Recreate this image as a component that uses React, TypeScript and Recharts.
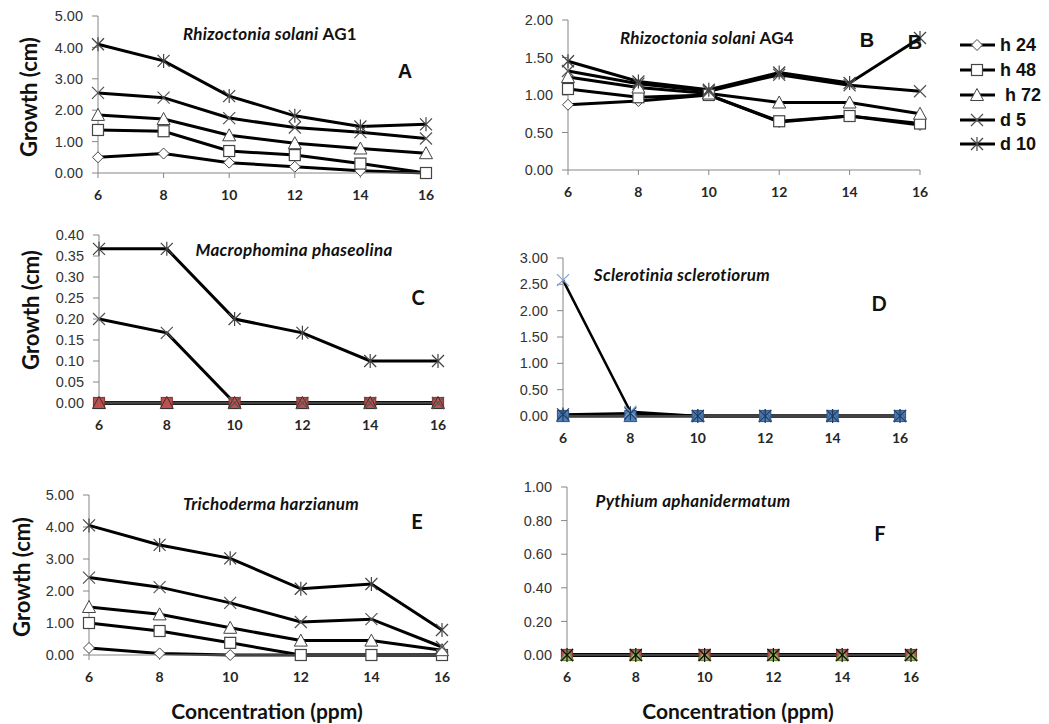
import React from 'react';
import { LineChart, Line, XAxis, YAxis } from 'recharts';

const concentrations = [6, 8, 10, 12, 14, 16];
const seriesKeys = ['h24', 'h48', 'h72', 'd5', 'd10'];
const seriesNames = ['h 24', 'h 48', ' h 72', 'd 5', 'd 10'];
const seriesShapes = ['diamond', 'square', 'triangle', 'cross', 'star'];

// A: Rhizoctonia solani AG1
const ag1H24 = [0.5, 0.62, 0.33, 0.2, 0.07, 0.0];
const ag1H48 = [1.37, 1.33, 0.7, 0.57, 0.3, 0.0];
const ag1H72 = [1.85, 1.72, 1.2, 0.95, 0.78, 0.63];
const ag1D5 = [2.55, 2.4, 1.75, 1.45, 1.3, 1.1];
const ag1D10 = [4.1, 3.57, 2.45, 1.82, 1.48, 1.55];
// B: Rhizoctonia solani AG4
const ag4H24 = [0.87, 0.92, 1.0, 0.64, 0.72, 0.6];
const ag4H48 = [1.08, 0.97, 1.0, 0.65, 0.72, 0.62];
const ag4H72 = [1.24, 1.1, 1.02, 0.9, 0.9, 0.75];
const ag4D5 = [1.32, 1.15, 1.05, 1.27, 1.13, 1.05];
const ag4D10 = [1.45, 1.18, 1.07, 1.3, 1.16, 1.76];
// C: Macrophomina phaseolina
const macH24 = [0, 0, 0, 0, 0, 0];
const macH48 = [0, 0, 0, 0, 0, 0];
const macH72 = [0, 0, 0, 0, 0, 0];
const macD5 = [0.2, 0.167, 0, 0, 0, 0];
const macD10 = [0.367, 0.367, 0.2, 0.167, 0.1, 0.1];
// D: Sclerotinia sclerotiorum
const sclH24 = [0, 0, 0, 0, 0, 0];
const sclH48 = [0, 0, 0, 0, 0, 0];
const sclH72 = [0, 0, 0, 0, 0, 0];
const sclD5 = [2.58, 0.08, 0, 0, 0, 0];
const sclD10 = [0.03, 0.05, 0, 0, 0, 0];
// E: Trichoderma harzianum
const triH24 = [0.22, 0.05, 0.0, 0.0, 0.0, 0.0];
const triH48 = [1.0, 0.75, 0.38, 0.0, 0.0, 0.0];
const triH72 = [1.5, 1.27, 0.85, 0.45, 0.45, 0.15];
const triD5 = [2.42, 2.12, 1.63, 1.03, 1.12, 0.25];
const triD10 = [4.05, 3.44, 3.02, 2.07, 2.22, 0.78];
// F: Pythium aphanidermatum
const pytH24 = [0, 0, 0, 0, 0, 0];
const pytH48 = [0, 0, 0, 0, 0, 0];
const pytH72 = [0, 0, 0, 0, 0, 0];
const pytD5 = [0, 0, 0, 0, 0, 0];
const pytD10 = [0, 0, 0, 0, 0, 0];

const ticksA = [0, 1, 2, 3, 4, 5];
const ticksB = [0, 0.5, 1, 1.5, 2];
const ticksC = [0, 0.05, 0.1, 0.15, 0.2, 0.25, 0.3, 0.35, 0.4];
const ticksD = [0, 0.5, 1, 1.5, 2, 2.5, 3];
const ticksF = [0, 0.2, 0.4, 0.6, 0.8, 1];

function rows(h24: number[], h48: number[], h72: number[], d5: number[], d10: number[]) {
  return concentrations.map((x, i) => ({ x, h24: h24[i], h48: h48[i], h72: h72[i], d5: d5[i], d10: d10[i] }));
}

type MS = { fill: string; stroke: string };

function Marker({ shape, cx, cy, fill, stroke }: any) {
  const s = 5.5;
  if (shape === 'diamond') {
    return <polygon points={`${cx},${cy - s} ${cx + s},${cy} ${cx},${cy + s} ${cx - s},${cy}`} fill={fill} stroke={stroke} strokeWidth={1} />;
  }
  if (shape === 'square') {
    return <rect x={cx - s} y={cy - s} width={2 * s} height={2 * s} fill={fill} stroke={stroke} strokeWidth={1.2} />;
  }
  if (shape === 'triangle') {
    return <polygon points={`${cx},${cy - 6.5} ${cx + 6.5},${cy + 5.5} ${cx - 6.5},${cy + 5.5}`} fill={fill} stroke={stroke} strokeWidth={1} />;
  }
  if (shape === 'cross') {
    return (
      <g stroke={stroke} strokeWidth={1.2}>
        <line x1={cx - 6} y1={cy - 6} x2={cx + 6} y2={cy + 6} />
        <line x1={cx - 6} y1={cy + 6} x2={cx + 6} y2={cy - 6} />
      </g>
    );
  }
  return (
    <g stroke={stroke} strokeWidth={1.2}>
      <line x1={cx - 6} y1={cy - 6} x2={cx + 6} y2={cy + 6} />
      <line x1={cx - 6} y1={cy + 6} x2={cx + 6} y2={cy - 6} />
      <line x1={cx} y1={cy - 7} x2={cx} y2={cy + 7} />
    </g>
  );
}

const hollow: MS[] = [
  { fill: '#fff', stroke: '#444' },
  { fill: '#fff', stroke: '#444' },
  { fill: '#fff', stroke: '#444' },
  { fill: 'none', stroke: '#555' },
  { fill: 'none', stroke: '#444' },
];
const redStyle: MS[] = [
  { fill: '#C0504D', stroke: '#8C3836' },
  { fill: '#C0504D', stroke: '#8C3836' },
  { fill: '#C0504D', stroke: '#333' },
  { fill: 'none', stroke: '#555' },
  { fill: 'none', stroke: '#444' },
];
const blueStyle: MS[] = [
  { fill: '#9BBB59', stroke: '#71893F' },
  { fill: '#4F81BD', stroke: '#385D8A' },
  { fill: '#4F81BD', stroke: '#385D8A' },
  { fill: 'none', stroke: '#7DA2D6' },
  { fill: 'none', stroke: '#1F3A5F' },
];
const mixStyle: MS[] = [
  { fill: '#C0504D', stroke: '#8C3836' },
  { fill: '#C0504D', stroke: '#8C3836' },
  { fill: '#9BBB59', stroke: '#71893F' },
  { fill: 'none', stroke: '#7F7F7F' },
  { fill: 'none', stroke: '#111' },
];

type Box = { x0: number; x1: number; y0: number; y1: number };

function Panel({ box, data, domain, ticks, styles, lineW = 3 }: { box: Box; data: any[]; domain: number[]; ticks: number[]; styles: MS[]; lineW?: number }) {
  const ML = 70, MT = 12, MR = 20, XH = 44;
  const w = box.x1 - box.x0 + ML + MR;
  const h = box.y1 - box.y0 + MT + XH;
  return (
    <div style={{ position: 'absolute', left: box.x0 - ML, top: box.y0 - MT }}>
      <LineChart width={w} height={h} data={data} margin={{ top: MT, right: MR, bottom: 0, left: 0 }} style={{ overflow: 'visible' }}>
        <XAxis
          type="number"
          dataKey="x"
          domain={[6, 16]}
          ticks={concentrations}
          interval={0}
          height={XH}
          axisLine={{ stroke: '#868686' }}
          tickLine={{ stroke: '#868686' }}
          tickSize={5}
          tickMargin={12}
          tick={{ fontSize: 14, fontWeight: 'bold', fill: '#262626', fontFamily: 'Lato, sans-serif' }}
        />
        <YAxis
          type="number"
          domain={domain}
          ticks={ticks}
          interval={0}
          width={ML}
          axisLine={{ stroke: '#868686' }}
          tickLine={{ stroke: '#868686' }}
          tickSize={6}
          tickMargin={9}
          tickFormatter={(v: number) => v.toFixed(2)}
          tick={{ fontSize: 14.5, fill: '#333', fontFamily: 'Liberation Sans, Arial, sans-serif' }}
        />
        {seriesKeys.map((k, si) => (
          <Line
            key={k}
            dataKey={k}
            type="linear"
            stroke="#000"
            strokeWidth={lineW}
            isAnimationActive={false}
            dot={(p: any) => (
              <Marker key={`${k}-${p.index}`} shape={seriesShapes[si]} cx={p.cx} cy={p.cy} fill={styles[si].fill} stroke={styles[si].stroke} />
            )}
            activeDot={false}
          />
        ))}
      </LineChart>
    </div>
  );
}

const titleStyle: React.CSSProperties = {
  position: 'absolute',
  fontFamily: 'Lato, sans-serif',
  fontWeight: 'bold',
  fontSize: 17,
  letterSpacing: 0.3,
  whiteSpace: 'nowrap',
  transform: 'translate(-50%, -50%)',
  color: '#111',
};

function Title({ x, y, italic, plain }: { x: number; y: number; italic: string; plain?: string }) {
  return (
    <div style={{ ...titleStyle, left: x, top: y }}>
      <span style={{ fontStyle: 'italic' }}>{italic}</span>
      {plain ? <span> {plain}</span> : null}
    </div>
  );
}

function Letter({ x, y, t, font }: { x: number; y: number; t: string; font: string }) {
  return (
    <div style={{ position: 'absolute', left: x, top: y, transform: 'translate(-50%, -50%)', fontFamily: font, fontWeight: 'bold', fontSize: 20, color: '#111' }}>
      {t}
    </div>
  );
}

function YLabel({ x, y }: { x: number; y: number }) {
  return (
    <div style={{ position: 'absolute', left: x, top: y, transform: 'translate(-50%, -50%) rotate(-90deg)', fontFamily: 'Lato, sans-serif', fontWeight: 'bold', fontSize: 22, whiteSpace: 'nowrap', color: '#111' }}>
      Growth (cm)
    </div>
  );
}

function XLabel({ x, y }: { x: number; y: number }) {
  return (
    <div style={{ position: 'absolute', left: x, top: y, transform: 'translate(-50%, -50%)', fontFamily: 'Lato, sans-serif', fontWeight: 'bold', fontSize: 21, whiteSpace: 'nowrap', color: '#111' }}>
      Concentration (ppm)
    </div>
  );
}

function LegendBox() {
  const rowsY = [45, 70, 95, 120, 144];
  return (
    <svg style={{ position: 'absolute', left: 955, top: 30 }} width={94} height={135}>
      {seriesKeys.map((k, i) => {
        const y = rowsY[i] - 30;
        return (
          <g key={k}>
            <line x1={5} y1={y} x2={40} y2={y} stroke="#000" strokeWidth={3} />
            <Marker shape={seriesShapes[i]} cx={22} cy={y} fill={hollow[i].fill} stroke={hollow[i].stroke} />
            <text x={45} y={y + 6} fontFamily="Liberation Sans, Arial, sans-serif" fontWeight="bold" fontSize={18} fill="#111" style={{ whiteSpace: 'pre' }}>
              {seriesNames[i]}
            </text>
          </g>
        );
      })}
    </svg>
  );
}

export default function App() {
  return (
    <div style={{ position: 'absolute', left: 0, top: 0, width: 1049, height: 724, background: '#fff', overflow: 'hidden' }}>
      <Panel box={{ x0: 98, x1: 426, y0: 16, y1: 173 }} data={rows(ag1H24, ag1H48, ag1H72, ag1D5, ag1D10)} domain={[0, 5]} ticks={ticksA} styles={hollow} />
      <Panel box={{ x0: 568, x1: 920, y0: 20, y1: 170 }} data={rows(ag4H24, ag4H48, ag4H72, ag4D5, ag4D10)} domain={[0, 2]} ticks={ticksB} styles={hollow} />
      <Panel box={{ x0: 99, x1: 438, y0: 235, y1: 403 }} data={rows(macH24, macH48, macH72, macD5, macD10)} domain={[0, 0.4]} ticks={ticksC} styles={redStyle} />
      <Panel box={{ x0: 563, x1: 900, y0: 258, y1: 416 }} data={rows(sclH24, sclH48, sclH72, sclD5, sclD10)} domain={[0, 3]} ticks={ticksD} styles={blueStyle} lineW={2.5} />
      <Panel box={{ x0: 89, x1: 442, y0: 495, y1: 655 }} data={rows(triH24, triH48, triH72, triD5, triD10)} domain={[0, 5]} ticks={ticksA} styles={hollow} />
      <Panel box={{ x0: 567, x1: 911, y0: 487, y1: 655 }} data={rows(pytH24, pytH48, pytH72, pytD5, pytD10)} domain={[0, 1]} ticks={ticksF} styles={mixStyle} />

      <Title x={270} y={33} italic="Rhizoctonia solani" plain="AG1" />
      <Title x={707} y={37} italic="Rhizoctonia solani" plain="AG4" />
      <Title x={294} y={249} italic="Macrophomina phaseolina" />
      <Title x={682} y={274} italic="Sclerotinia sclerotiorum" />
      <Title x={271} y={503} italic="Trichoderma harzianum" />
      <Title x={693} y={500} italic="Pythium aphanidermatum" />

      <Letter x={405} y={71} t="A" font="Liberation Sans, Arial, sans-serif" />
      <Letter x={867} y={40} t="B" font="Liberation Sans, Arial, sans-serif" />
      <Letter x={915} y={42} t="B" font="Liberation Sans, Arial, sans-serif" />
      <Letter x={418} y={297} t="C" font="Lato, sans-serif" />
      <Letter x={879} y={303} t="D" font="Lato, sans-serif" />
      <Letter x={417} y={521} t="E" font="Lato, sans-serif" />
      <Letter x={880} y={533} t="F" font="Lato, sans-serif" />

      <YLabel x={28} y={97} />
      <YLabel x={30} y={310} />
      <YLabel x={21} y={577} />
      <XLabel x={267} y={710} />
      <XLabel x={738} y={710} />

      <LegendBox />
    </div>
  );
}
